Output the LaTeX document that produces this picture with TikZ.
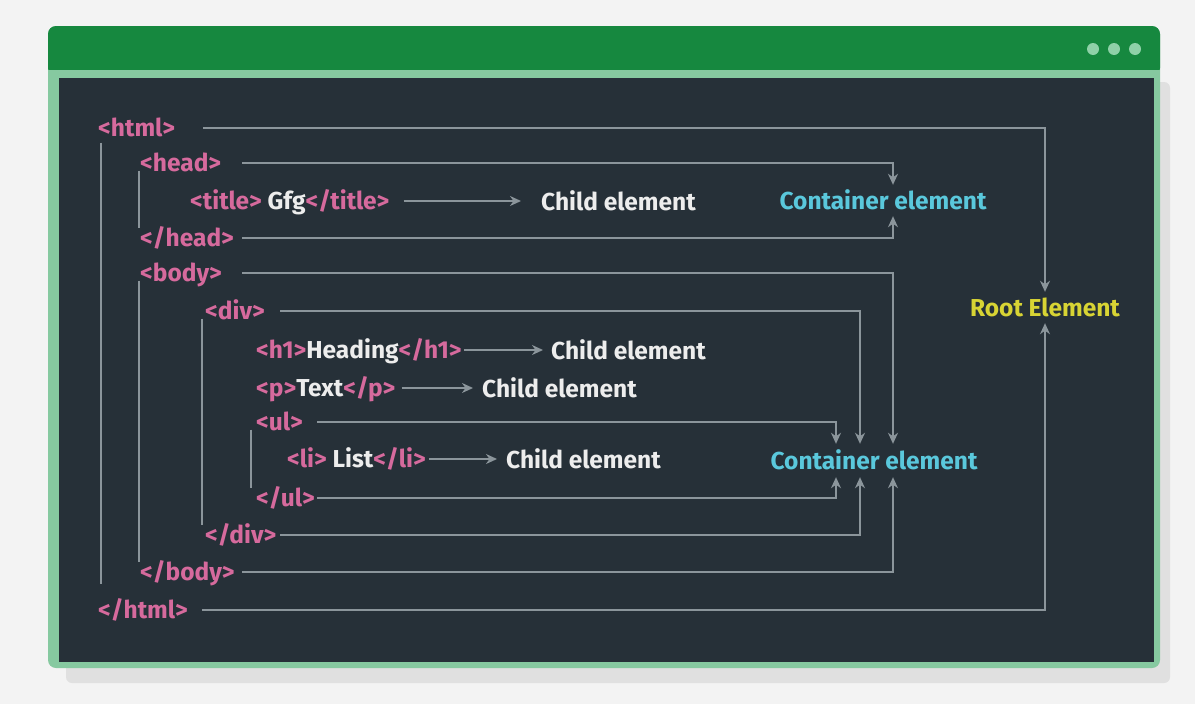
\documentclass[tikz,border=0pt]{standalone}
\usepackage{fontspec}
\setmainfont{Fira Sans}
\usetikzlibrary{arrows.meta}
\definecolor{pagebg}{HTML}{F3F3F3}
\definecolor{shadowc}{HTML}{E0E0E0}
\definecolor{framegreen}{HTML}{86C9A0}
\definecolor{bargreen}{HTML}{16883F}
\definecolor{dotgreen}{HTML}{8FD1A8}
\definecolor{panel}{HTML}{263038}
\definecolor{tagpink}{HTML}{D66A9D}
\definecolor{txtwhite}{HTML}{EDEDED}
\definecolor{cyanlbl}{HTML}{5AC8DC}
\definecolor{rootyellow}{HTML}{D8D434}
\definecolor{linegray}{HTML}{8B959B}
\begin{document}
\begin{tikzpicture}[x=1pt,y=-1pt,
  tag/.style={anchor=west, inner sep=0pt, text height=15pt, text depth=0pt,
    font=\bfseries\fontsize{24.5}{28}\selectfont, text=tagpink},
  lbl/.style={inner sep=0pt, text height=16pt, text depth=0pt,
    font=\bfseries\fontsize{24.5}{28}\selectfont},
  child/.style={lbl, anchor=west, text=txtwhite},
  conn/.style={draw=linegray, line width=1.6pt},
  arr/.style={conn, -{Stealth[length=11pt,width=10pt,inset=3.5pt]}},
  bracket/.style={draw=linegray, line width=1.4pt}
]
\useasboundingbox (0,0) rectangle (1195,704);
\fill[pagebg] (0,0) rectangle (1195,704);
\fill[shadowc, rounded corners=6pt] (66,82) rectangle (1170,683);
\fill[framegreen, rounded corners=8pt] (48,26) rectangle (1160,668);
\fill[bargreen, rounded corners=8pt] (48,26) rectangle (1160,76);
\fill[framegreen] (48,70) rectangle (1160,78);
\fill[panel] (59,78) rectangle (1154,662);
\foreach \dx in {1093,1114,1135}{\fill[dotgreen] (\dx,49) circle[radius=6pt];}

% tags
\node[tag] (html)  at (98,129)  {<html>};
\node[tag] (head)  at (140,164) {<head>};
\node[tag] (title) at (190,202) {<title> \textcolor{txtwhite}{Gfg}</title>};
\node[tag] (ehead) at (140,239) {</head>};
\node[tag] (body)  at (140,274) {<body>};
\node[tag] (div)   at (205,312) {<div>};
\node[tag] (hone)  at (256,351) {<h1>\textcolor{txtwhite}{Heading}</h1>};
\node[tag] (para)  at (256,389) {<p>\textcolor{txtwhite}{Text}</p>};
\node[tag] (ul)    at (256,423) {<ul>};
\node[tag] (li)    at (287,460) {<li> \textcolor{txtwhite}{List}</li>};
\node[tag] (eul)   at (256,499) {</ul>};
\node[tag] (ediv)  at (205,536) {</div>};
\node[tag] (ebody) at (140,573) {</body>};
\node[tag] (ehtml) at (98,611)  {</html>};

% labels
\node[lbl, text=cyanlbl] (ceone) at (883,201) {Container element};
\node[lbl, text=cyanlbl] (cetwo) at (874,461) {Container element};
\node[lbl, text=rootyellow] (root) at (1045,308) {Root Element};
\node[child] (chone)   at (541,202) {Child element};
\node[child] (chtwo)   at (551,351) {Child element};
\node[child] (chthree) at (482,389) {Child element};
\node[child] (chfour)  at (506,460) {Child element};

% line start coordinates
\coordinate (sHtml)  at (203,128);
\coordinate (sHead)  at (242,163);
\coordinate (sEhead) at (242,238);
\coordinate (sBody)  at (242,273);
\coordinate (sDiv)   at (280,311);
\coordinate (sUl)    at (317,422);
\coordinate (sEul)   at (317,498);
\coordinate (sEdiv)  at (280,535);
\coordinate (sEbody) at (242,572);
\coordinate (sEhtml) at (202,610);

% brackets
\draw[bracket] ([shift={(3pt,-6pt)}]html.south west) -- ([shift={(3pt,19pt)}]ehtml.north west);
\draw[bracket] ([shift={(-1pt,1pt)}]head.south west) -- ([shift={(-1pt,3pt)}]ehead.north west);
\draw[bracket] ([shift={(-1pt,1pt)}]body.south west) -- ([shift={(-1pt,3pt)}]ebody.north west);
\draw[bracket] ([shift={(-3pt,1pt)}]div.south west) -- ([shift={(-3pt,3pt)}]ediv.north west);
\draw[bracket] ([shift={(-5pt,1pt)}]ul.south west) -- ([shift={(-5pt,3pt)}]eul.north west);

% connectors to root
\draw[arr] (sHtml) -| ([yshift=8pt]root.north);
\draw[arr] (sEhtml) -| ([yshift=-7pt]root.south);
% head container
\draw[arr] (sHead) -| ([shift={(10pt,8pt)}]ceone.north);
\draw[arr] (sEhead) -| ([shift={(10pt,-7pt)}]ceone.south);
% body / div / ul containers
\draw[arr] (sBody) -| ([shift={(19pt,9pt)}]cetwo.north);
\draw[arr] (sEbody) -| ([shift={(19pt,-8pt)}]cetwo.south);
\draw[arr] (sDiv) -| ([shift={(-14pt,9pt)}]cetwo.north);
\draw[arr] (sEdiv) -| ([shift={(-14pt,-8pt)}]cetwo.south);
\draw[arr] (sUl) -| ([shift={(-38pt,9pt)}]cetwo.north);
\draw[arr] (sEul) -| ([shift={(-38pt,-8pt)}]cetwo.south);
% child arrows
\draw[arr] ([xshift=14pt,yshift=1pt]title.east) -- ([xshift=-20pt,yshift=1pt]chone.west);
\draw[arr] ([xshift=2pt,yshift=1pt]hone.east) -- ([xshift=-8pt,yshift=1pt]chtwo.west);
\draw[arr] ([xshift=6pt,yshift=1pt]para.east) -- ([xshift=-9pt,yshift=1pt]chthree.west);
\draw[arr] ([xshift=3pt,yshift=1pt]li.east) -- ([xshift=-9pt,yshift=1pt]chfour.west);
\end{tikzpicture}
\end{document}
